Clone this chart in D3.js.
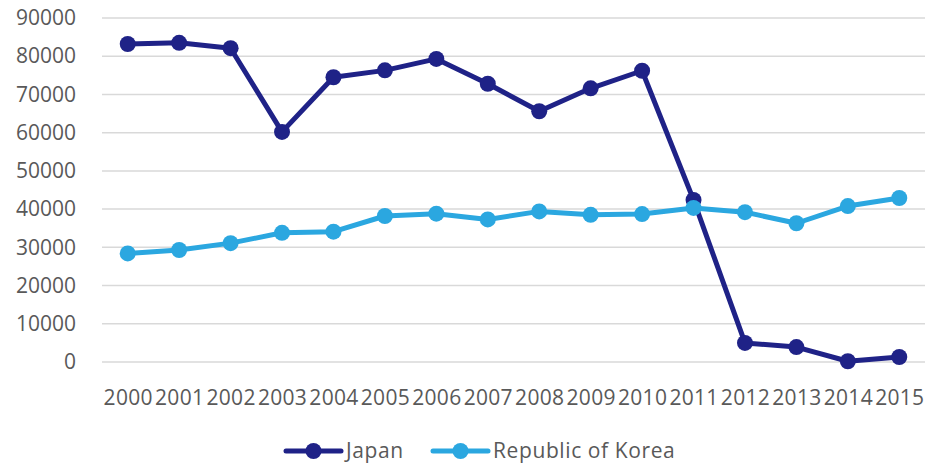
<!DOCTYPE html>
<html>
<head>
<meta charset="utf-8">
<script src="https://cdn.jsdelivr.net/npm/d3@7"></script>
<style>
  body { margin: 0; background: #fff; }
  text { font-family: "Open Sans", "Noto Sans", sans-serif; fill: #595959; }
</style>
</head>
<body>
<svg id="chart" width="927" height="465"></svg>
<script>
// chart data
const years = ['2000','2001','2002','2003','2004','2005','2006','2007','2008','2009','2010','2011','2012','2013','2014','2015'];
const japan = [83200, 83500, 82100, 60200, 74500, 76300, 79300, 72800, 65600, 71600, 76200, 42400, 5000, 3900, 200, 1300];
const korea = [28400, 29300, 31100, 33800, 34100, 38200, 38800, 37300, 39400, 38500, 38700, 40300, 39200, 36300, 40800, 42900];
const yTicks = [0, 10000, 20000, 30000, 40000, 50000, 60000, 70000, 80000, 90000];

const series = [
    { name: 'Japan', values: japan, color: '#1f2287' },
    { name: 'Republic of Korea', values: korea, color: '#2ba7e0' }
];

const svg = d3.select('#chart');

const x = d3.scalePoint().domain(years).range([102, 925]).padding(0.5);
const y = d3.scaleLinear().domain([0, 90000]).range([362, 18]);

// gridlines
svg.append('g')
    .selectAll('line')
    .data(yTicks)
    .join('line')
    .attr('x1', 102)
    .attr('x2', 925)
    .attr('y1', d => y(d))
    .attr('y2', d => y(d))
    .attr('stroke', '#d9d9d9')
    .attr('stroke-width', 1.5);

// y axis labels
const yAxis = svg.append('g')
    .attr('transform', 'translate(76,0)')
    .call(d3.axisLeft(y).tickValues(yTicks).tickSize(0).tickPadding(0).tickFormat(d3.format('d')));
yAxis.select('.domain').remove();
yAxis.selectAll('text')
    .attr('font-size', '21px')
    .style('font-family', '"Open Sans", sans-serif')
    .attr('fill', '#595959');

// x axis labels
const xAxis = svg.append('g')
    .attr('transform', 'translate(0,390)')
    .call(d3.axisBottom(x).tickSize(0).tickPadding(0));
xAxis.select('.domain').remove();
xAxis.selectAll('text')
    .attr('font-size', '21px')
    .attr('dy', '0.71em')
    .attr('letter-spacing', '0.3px')
    .style('font-family', '"Open Sans", sans-serif')
    .attr('fill', '#595959');

const line = d3.line()
    .x((d, i) => x(years[i]))
    .y(d => y(d));

// lines and markers
series.forEach(s => {
    const g = svg.append('g');
    g.append('path')
        .attr('d', line(s.values))
        .attr('fill', 'none')
        .attr('stroke', s.color)
        .attr('stroke-width', 5)
        .attr('stroke-linejoin', 'round');
    g.selectAll('circle')
        .data(s.values)
        .join('circle')
        .attr('cx', (d, i) => x(years[i]))
        .attr('cy', d => y(d))
        .attr('r', 8)
        .attr('fill', s.color);
});

// legend
const legendItems = [
    { name: 'Japan', color: series[0].color, x: 286 },
    { name: 'Republic of Korea', color: series[1].color, x: 433 }
];
const legend = svg.append('g').attr('transform', 'translate(0,451)');
legendItems.forEach(item => {
    const lg = legend.append('g').attr('transform', `translate(${item.x},0)`);
    lg.append('line')
        .attr('x1', 0).attr('x2', 55)
        .attr('y1', 0).attr('y2', 0)
        .attr('stroke', item.color)
        .attr('stroke-width', 5)
        .attr('stroke-linecap', 'round');
    lg.append('circle')
        .attr('cx', 27.5).attr('cy', 0).attr('r', 8)
        .attr('fill', item.color);
    lg.append('text')
        .attr('x', 60)
        .attr('y', 0)
        .attr('dy', '0.35em')
        .attr('font-size', '21px')
        .attr('letter-spacing', '0.6px')
        .text(item.name);
});
</script>
</body>
</html>
